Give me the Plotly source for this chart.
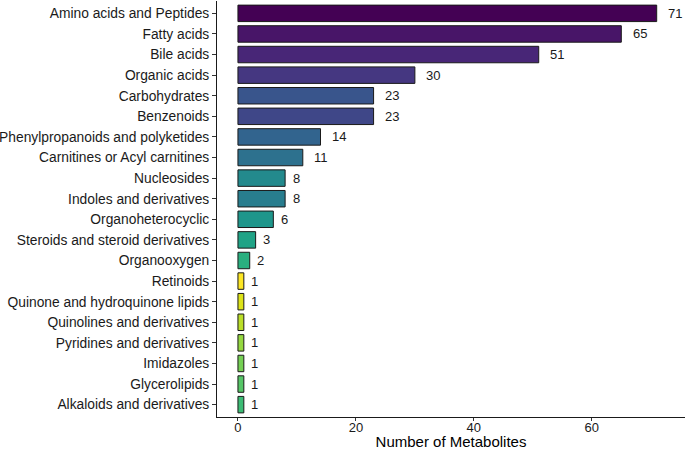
import plotly.graph_objects as go

# categories top -> bottom, as shown
categories = [
    "Amino acids and Peptides", "Fatty acids", "Bile acids", "Organic acids",
    "Carbohydrates", "Benzenoids", "Phenylpropanoids and polyketides",
    "Carnitines or Acyl carnitines", "Nucleosides", "Indoles and derivatives",
    "Organoheterocyclic", "Steroids and steroid derivatives", "Organooxygen",
    "Retinoids", "Quinone and hydroquinone lipids", "Quinolines and derivatives",
    "Pyridines and derivatives", "Imidazoles", "Glycerolipids",
    "Alkaloids and derivatives",
]
counts = [71, 65, 51, 30, 23, 23, 14, 11, 8, 8, 6, 3, 2, 1, 1, 1, 1, 1, 1, 1]

# viridis(20), assigned in factor order (count desc, ties alphabetical)
viridis20 = [
    "#440154", "#481568", "#482677", "#453781", "#3F4788", "#39558C",
    "#32648E", "#2D718E", "#287D8E", "#238A8D", "#1F968B", "#20A386",
    "#29AF7F", "#3CBC75", "#56C667", "#75D054", "#95D840", "#BADE28",
    "#DDE318", "#FDE725",
]
level_order = sorted(categories, key=lambda c: (-counts[categories.index(c)], c))
colors = [viridis20[level_order.index(c)] for c in categories]

font = "Liberation Sans, Arial, sans-serif"

fig = go.Figure(go.Bar(
    x=counts,
    y=categories,
    orientation="h",
    width=0.8,
    marker=dict(color=colors, line=dict(color="#1a1a1a", width=1)),
    hoverinfo="x+y",
))

# value labels to the right of each bar
for c, v in zip(categories, counts):
    s = str(v)
    fig.add_annotation(
        x=v, y=c, text=s, showarrow=False, xanchor="left",
        xshift=2 + 3.6 * len(s),
        font=dict(family=font, size=13, color="#1a1a1a"),
    )

fig.update_layout(
    width=685, height=450,
    margin=dict(l=217, r=0, t=1, b=33, autoexpand=False),
    plot_bgcolor="white", paper_bgcolor="white",
    font=dict(family=font, size=14, color="#1a1a1a"),
    showlegend=False,
    bargap=0.2,
)
fig.update_xaxes(
    range=[-3.55, 75.8], tickvals=[0, 20, 40, 60], automargin=False,
    showline=True, linecolor="#1a1a1a", linewidth=1,
    ticks="outside", ticklen=3, tickcolor="#333", showgrid=False, zeroline=False,
    ticklabelstandoff=-5,
    tickfont=dict(size=13, color="#1a1a1a"),
    title=dict(text="Number of Metabolites", font=dict(size=15, color="black")),
)
fig.update_yaxes(
    categoryorder="array", categoryarray=categories[::-1],
    range=[-0.6, 19.6], automargin=False,
    showline=True, linecolor="#1a1a1a", linewidth=1,
    ticks="outside", ticklen=4, tickcolor="#333", showgrid=False,
    tickfont=dict(size=13.8, color="#1a1a1a"),
)

# page body has a default 8px margin; drop it so the figure sits at 0,0
fig.write_html("out.html", config={"displayModeBar": False},
               post_script="document.body.style.margin='0px';")
